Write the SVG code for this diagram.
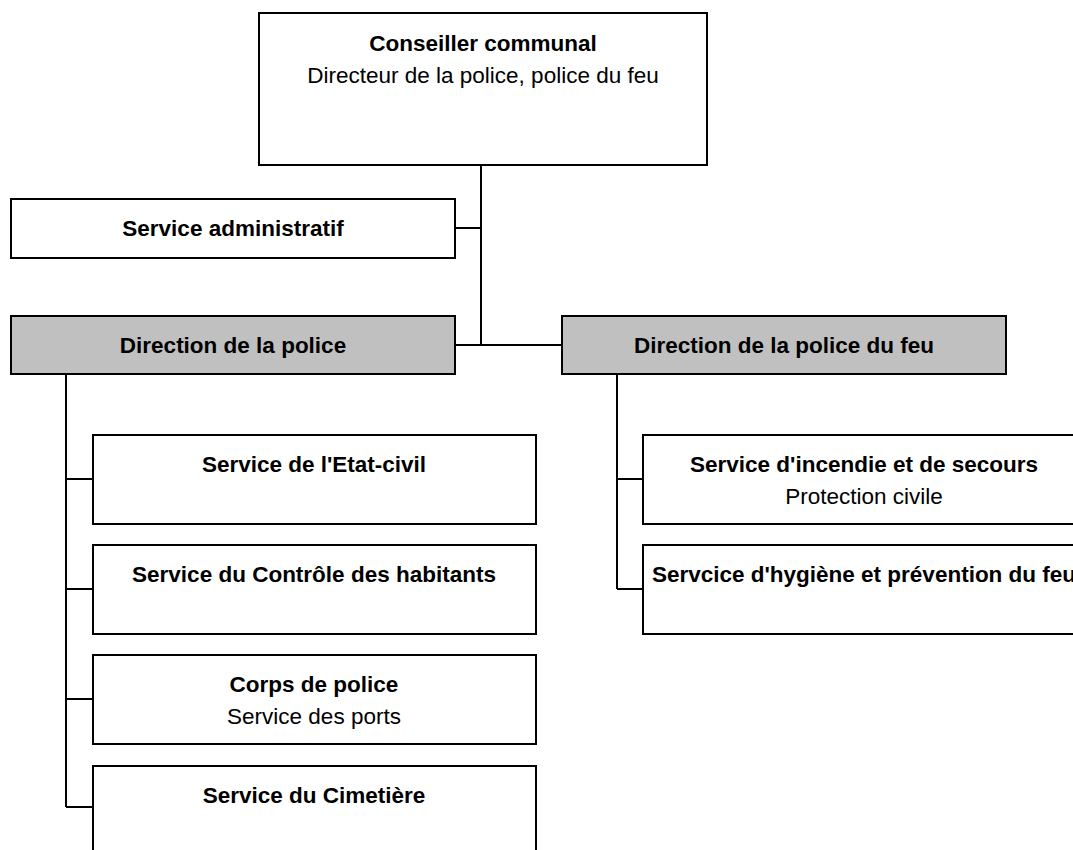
<svg xmlns="http://www.w3.org/2000/svg" width="1073" height="850" viewBox="0 0 1073 850">
<style>
.box{fill:#fff;stroke:#000;stroke-width:2}
.dir{fill:#c0c0c0;stroke:#000;stroke-width:2}
.con{fill:none;stroke:#000;stroke-width:2}
text{font-family:"Liberation Sans",Arial,sans-serif;font-size:22.5px;fill:#000;text-anchor:middle}
.b{font-weight:bold}
</style>
<rect width="1073" height="850" fill="#fff"/>
<g id="connectors">
<path class="con" d="M481,165V345M455,228H481M455,345H562"/>
<path class="con" d="M66,374V807M66,479H93M66,589H93M66,699H93M66,807H93"/>
<path class="con" d="M617,374V589M617,479H643M617,589H643"/>
</g>
<g id="n-conseiller">
<rect class="box" x="259" y="13" width="448" height="152"/>
<text class="b" x="483" y="51">Conseiller communal</text>
<text x="483" y="83">Directeur de la police, police du feu</text>
</g>
<g id="n-admin">
<rect class="box" x="11" y="199" width="444" height="59"/>
<text class="b" x="233" y="236">Service administratif</text>
</g>
<g id="n-dir-police">
<rect class="dir" x="11" y="316" width="444" height="58"/>
<text class="b" x="233" y="353">Direction de la police</text>
</g>
<g id="n-dir-feu">
<rect class="dir" x="562" y="316" width="444" height="58"/>
<text class="b" x="784" y="353">Direction de la police du feu</text>
</g>
<g id="n-etat-civil">
<rect class="box" x="93" y="435" width="443" height="89"/>
<text class="b" x="314" y="472">Service de l'Etat-civil</text>
</g>
<g id="n-controle">
<rect class="box" x="93" y="545" width="443" height="89"/>
<text class="b" x="314" y="582">Service du Contrôle des habitants</text>
</g>
<g id="n-corps">
<rect class="box" x="93" y="655" width="443" height="89"/>
<text class="b" x="314" y="692">Corps de police</text>
<text x="314" y="724">Service des ports</text>
</g>
<g id="n-cimetiere">
<rect class="box" x="93" y="766" width="443" height="100"/>
<text class="b" x="314" y="803">Service du Cimetière</text>
</g>
<g id="n-incendie">
<rect class="box" x="643" y="435" width="443" height="89"/>
<text class="b" x="864" y="472">Service d'incendie et de secours</text>
<text x="864" y="504">Protection civile</text>
</g>
<g id="n-hygiene">
<rect class="box" x="643" y="545" width="443" height="89"/>
<text class="b" x="864" y="582">Servcice d'hygiène et prévention du feu</text>
</g>
</svg>
